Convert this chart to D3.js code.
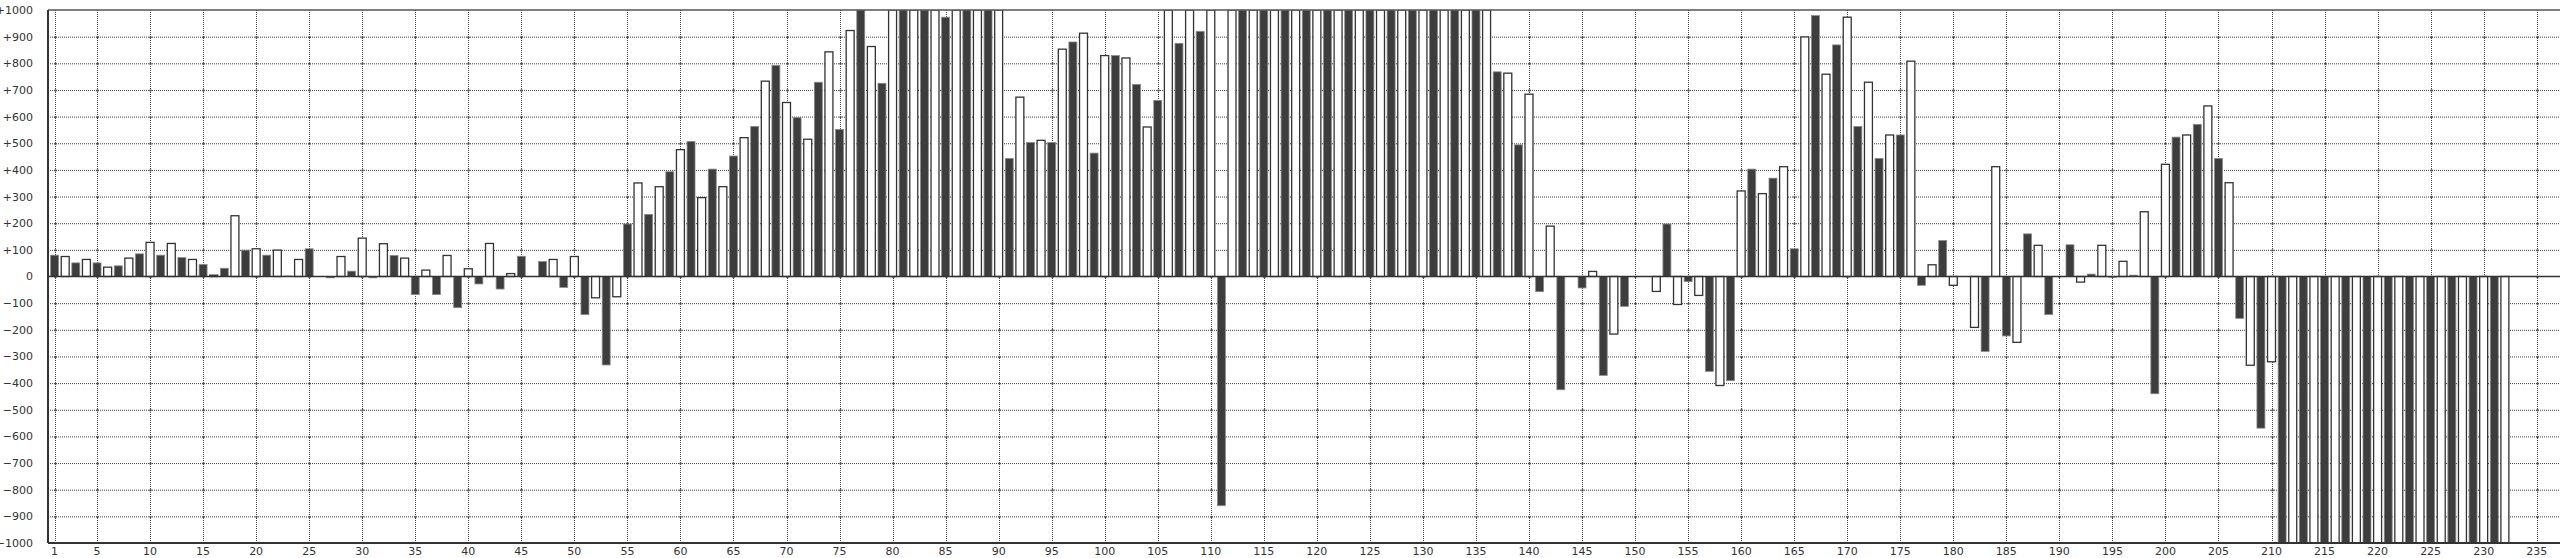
<!DOCTYPE html>
<html><head><meta charset="utf-8">
<script src="https://cdn.jsdelivr.net/npm/d3@7"></script>
<style>html,body{margin:0;padding:0;background:#fff;overflow:hidden}</style>
</head><body>
<script>
// Bar positions 1..232; odd = dark series, even = white series
const positions = d3.range(1, 233);
const values = [
  80, 75, 51, 64, 51, 35, 40, 69, 85, 128,
  80, 124, 71, 64, 45, 5, 31, 228, 99, 104,
  80, 99, 2, 64, 104, 0, -5, 75, 20, 144,
  -5, 123, 79, 69, -68, 24, -68, 79, -117, 29,
  -28, 124, -47, 11, 76, 0, 56, 64, -41, 75,
  -143, -80, -332, -76, 197, 351, 233, 337, 393, 476,
  507, 296, 403, 337, 452, 521, 563, 733, 792, 653,
  596, 515, 729, 843, 552, 923, 1000, 863, 725, 1000,
  1000, 1000, 1000, 1000, 973, 1000, 1000, 1000, 1000, 1000,
  443, 673, 503, 511, 503, 853, 880, 913, 463, 829,
  829, 820, 721, 561, 661, 1000, 875, 1000, 920, 1000,
  -860, 1000, 1000, 1000, 1000, 1000, 1000, 1000, 1000, 1000,
  1000, 1000, 1000, 1000, 1000, 1000, 1000, 1000, 1000, 1000,
  1000, 1000, 1000, 1000, 1000, 1000, 768, 763, 494, 684,
  -57, 189, -425, 0, -43, 19, -371, -216, -112, 0,
  0, -56, 197, -105, -19, -71, -356, -409, -391, 321,
  403, 311, 369, 412, 104, 899, 979, 759, 869, 973,
  563, 729, 443, 531, 531, 808, -33, 44, 135, -33,
  0, -191, -281, 412, -223, -247, 160, 117, -143, 0,
  119, -21, 9, 117, -3, 57, 5, 243, -440, 421,
  523, 531, 571, 640, 443, 352, -157, -333, -569, -320,
  -1000, -1000, -1000, -1000, -1000, -1000, -1000, -1000, -1000, -1000,
  -1000, -1000, -1000, -1000, -1000, -1000, -1000, -1000, -1000, -1000,
  -1000, -1000
];
const xTicks = [1].concat(d3.range(5, 236, 5));
const yTicks = d3.range(-1000, 1001, 100);
const yTickLabels = yTicks.map(v => v > 0 ? "+" + v : (v < 0 ? "\u2212" + Math.abs(v) : "0"));

const W = 2560, H = 558;
const plotLeft = 48, plotRight = 2560, plotTop = 10, plotBottom = 543;

const x = d3.scaleLinear().domain([1, 235]).range([54.6, 2536.7]);
const y = d3.scaleLinear().domain([-1000, 1000]).range([plotBottom, plotTop]);
const barW = (x(2) - x(1)) * 0.75;

const svg = d3.select("body").append("svg")
  .attr("width", W).attr("height", H)
  .style("font-family", "'DejaVu Sans', Verdana, sans-serif");

svg.append("defs").append("clipPath").attr("id", "plotclip")
  .append("rect").attr("x", plotLeft).attr("y", plotTop)
  .attr("width", plotRight - plotLeft).attr("height", plotBottom - plotTop);

const grid = svg.append("g");
grid.selectAll("line.h").data(yTicks.filter(v => v !== 0 && Math.abs(v) !== 1000)).enter()
  .append("line")
  .attr("x1", plotLeft).attr("x2", plotRight)
  .attr("y1", d => y(d) + 0.5).attr("y2", d => y(d) + 0.5)
  .attr("stroke", "#444").attr("stroke-width", 1).attr("stroke-dasharray", "1,1");
grid.selectAll("line.v").data(xTicks).enter()
  .append("line")
  .attr("x1", d => Math.round(x(d)) + 0.5).attr("x2", d => Math.round(x(d)) + 0.5)
  .attr("y1", plotTop).attr("y2", plotBottom)
  .attr("stroke", "#444").attr("stroke-width", 1).attr("stroke-dasharray", "1,1");
// intersection dots
const inter = [];
xTicks.forEach(a => yTicks.filter(v => Math.abs(v) !== 1000).forEach(b => inter.push([a, b])));
grid.selectAll("circle").data(inter).enter().append("circle")
  .attr("cx", d => Math.round(x(d[0])) + 0.5).attr("cy", d => y(d[1]) + 0.5)
  .attr("r", 1.2).attr("fill", "#555");

const bars = svg.append("g").attr("clip-path", "url(#plotclip)");
bars.selectAll("rect").data(positions.map((p, i) => ({p, v: values[i]}))).enter()
  .append("rect")
  .attr("x", d => x(d.p) - barW / 2)
  .attr("width", barW)
  .attr("y", d => Math.min(y(d.v), y(0)))
  .attr("height", d => Math.abs(y(d.v) - y(0)))
  .attr("fill", d => d.p % 2 === 1 ? "#3d3d3d" : "#ffffff")
  .attr("stroke", d => d.p % 2 === 1 ? "#8a8a8a" : "#333")
  .attr("stroke-width", d => d.p % 2 === 1 ? 0.8 : 1.3);

// zero line
svg.append("line").attr("x1", plotLeft).attr("x2", plotRight)
  .attr("y1", y(0)).attr("y2", y(0)).attr("stroke", "#333").attr("stroke-width", 1.3);

// frame
svg.append("line").attr("x1", plotLeft).attr("x2", plotRight).attr("y1", plotTop).attr("y2", plotTop)
  .attr("stroke", "#555").attr("stroke-width", 1.5);
svg.append("line").attr("x1", plotLeft).attr("x2", plotRight).attr("y1", plotBottom).attr("y2", plotBottom)
  .attr("stroke", "#333").attr("stroke-width", 2);
svg.append("line").attr("x1", plotLeft).attr("x2", plotLeft).attr("y1", plotTop).attr("y2", plotBottom)
  .attr("stroke", "#333").attr("stroke-width", 2);

// y labels
svg.append("g").selectAll("text").data(yTicks).enter().append("text")
  .attr("x", 33).attr("y", d => y(d)).attr("dy", "0.36em")
  .attr("text-anchor", "end").attr("font-size", 11).attr("fill", "#333")
  .text((d, i) => yTickLabels[i]);

// x labels
svg.append("g").selectAll("text").data(xTicks).enter().append("text")
  .attr("x", d => x(d)).attr("y", 555)
  .attr("text-anchor", "middle").attr("font-size", 11).attr("fill", "#333")
  .text(d => d);
</script>
</body></html>
